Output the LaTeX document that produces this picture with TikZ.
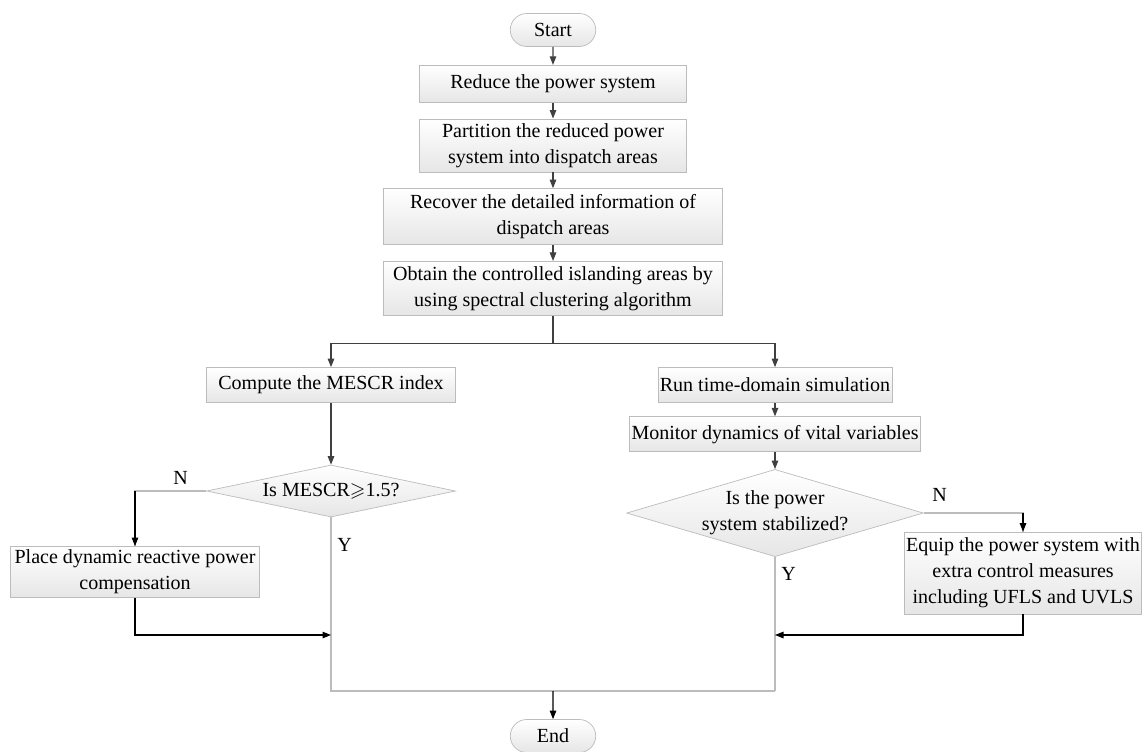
\documentclass[tikz,border=0pt]{standalone}
\usepackage{amssymb}
\usepackage{fontspec}
\setmainfont{Liberation Serif}
\newfontfamily\timesrm{Liberation Serif}
\usetikzlibrary{arrows.meta,positioning,shapes.geometric,shapes.misc}
\definecolor{edge}{RGB}{188,188,188}
\definecolor{boxfill}{RGB}{230,230,230}
\definecolor{lead}{RGB}{64,64,64}

\begin{document}
\begin{tikzpicture}[
  x=0.02cm, y=-0.02cm, font=\timesrm\fontsize{11.4}{14.8}\selectfont,
  box/.style={draw=edge, top color=white, bottom color=boxfill, align=center, inner xsep=1pt, inner ysep=2pt},
  term/.style={box, rounded rectangle, minimum width=1.78cm, minimum height=0.66cm},
  dec/.style={draw=edge, top color=white, bottom color=boxfill, diamond, align=center, inner sep=0pt},
  arr/.style={-{Triangle[length=1.7mm, width=1.3mm]}, line width=0.6pt, lead},
  link/.style={line width=0.6pt, edge},
  tag/.style={text=black},
]
\useasboundingbox (0,0) rectangle (1142,751);
% main chain
\node[term] (start) at (553,30) {Start};
\node[box, below=3.6mm of start, minimum width=5.34cm, minimum height=0.74cm] (reduce) {Reduce the power system};
\node[box, below=3.2mm of reduce, minimum width=5.34cm, minimum height=1.06cm] (part) {Partition the reduced power\\system into dispatch areas};
\node[box, below=3.2mm of part, minimum width=6.78cm, minimum height=1.12cm] (recover) {Recover the detailed information of\\dispatch areas};
\node[box, below=3.2mm of recover, minimum width=6.78cm, minimum height=1.08cm] (obtain) {Obtain the controlled islanding areas by\\using spectral clustering algorithm};
% left branch
\node[box, minimum width=4.98cm, minimum height=0.7cm] (mescr) at (331,385) {Compute the MESCR index};
\node[dec, minimum width=4.98cm, minimum height=1.04cm, aspect=4.8] (ismescr) at (331,491) {Is MESCR$\geqslant$1.5?};
\node[box, minimum width=4.98cm, minimum height=0.98cm] (place) at (135,572) {Place dynamic reactive power\\compensation};
% right branch
\node[box, minimum width=4.5cm, minimum height=0.7cm] (run) at (775,385) {Run time-domain simulation};
\node[box, below=2.7mm of run, minimum width=5.74cm, minimum height=0.7cm] (monitor) {Monitor dynamics of vital variables};
\node[dec, below=3.4mm of monitor, minimum width=5.9cm, minimum height=1.74cm, aspect=3.4] (stable) {Is the power\\system stabilized?};
\node[box, minimum width=4.7cm, minimum height=1.64cm] (equip) at (1023,573) {Equip the power system with\\extra control measures\\including UFLS and UVLS};
\node[term] (end) at (553,736) {End};
\coordinate (join) at (553,691);
\coordinate (mergeL) at (331,635);
\coordinate (mergeR) at (775,635);

\draw[arr] (start) -- (reduce);
\draw[arr] (reduce) -- (part);
\draw[arr] (part) -- (recover);
\draw[arr] (recover) -- (obtain);
\draw[arr] (obtain.south) -- ++(0,28) -| (mescr);
\draw[arr] (obtain.south) ++(0,28) -| (run);
\draw[arr] (mescr) -- (ismescr);
\draw[arr] (run) -- (monitor);
\draw[arr] (monitor) -- (stable);
\draw[link] (ismescr.west) -| node[tag, above, pos=0.18]{N} (place.north);
\draw[arr, black] (place.north |- ismescr.west) -- (place);
\draw[link] (stable.east) -| node[tag, above, pos=0.08, yshift=3pt]{N} (equip.north);
\draw[arr, black] (equip.north |- stable.east) -- (equip);
\draw[link] (ismescr.south) -- node[tag, right, pos=0.16]{Y} (ismescr.south |- join) -- (stable.south |- join);
\draw[link] (stable.south) -- node[tag, right, pos=0.13]{Y} (stable.south |- join);
\draw[arr, black] (place.south) |- (mergeL);
\draw[arr, black] (equip.south) |- (mergeR);
\draw[arr, black] (join) -- (end);
\end{tikzpicture}
\end{document}
